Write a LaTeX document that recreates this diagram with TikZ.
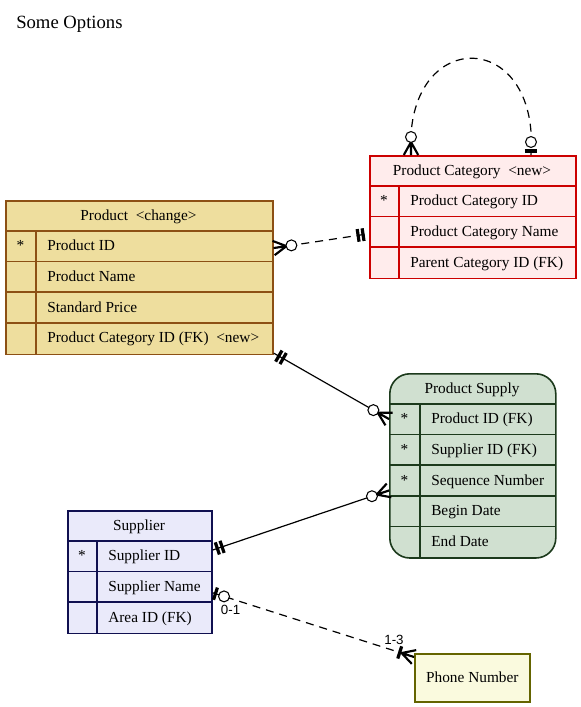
\documentclass[tikz,border=0pt]{standalone}
\usepackage{fontspec}
\setmainfont{Liberation Serif}
\newfontfamily\lblfont{Liberation Sans}
\usetikzlibrary{calc}

\definecolor{prodfill}{RGB}{238,222,158}
\definecolor{prodbd}{RGB}{140,80,20}
\definecolor{pcatfill}{RGB}{255,236,236}
\definecolor{pcatbd}{RGB}{204,0,0}
\definecolor{psfill}{RGB}{208,224,208}
\definecolor{psbd}{RGB}{28,58,28}
\definecolor{supfill}{RGB}{234,234,250}
\definecolor{supbd}{RGB}{16,16,80}
\definecolor{phonefill}{RGB}{250,250,222}
\definecolor{phonebd}{RGB}{100,100,0}

\tikzset{
  cell/.style={inner sep=0pt, text height=9pt, text depth=2pt,
    font=\fontsize{11.5}{13}\selectfont},
  attr/.style={cell, anchor=west},
  keycell/.style={cell, anchor=center},
  head/.style={cell, anchor=center},
  box/.style={anchor=north west, inner sep=0pt, line width=1.2pt},
  prodbox/.style={draw=prodbd, fill=prodfill},
  pcatbox/.style={draw=pcatbd, fill=pcatfill},
  psbox/.style={draw=psbd, fill=psfill, rounded corners=15pt},
  supbox/.style={draw=supbd, fill=supfill},
  rel/.style={line width=0.9pt},
  opt/.style={rel, dash pattern=on 6pt off 4.5pt},
  crow/.style={line width=1.6pt, line join=miter},
  erbarline/.style={line width=2.4pt},
  ring/.style={line width=0.8pt, draw=black, fill=white},
  lbl/.style={font=\lblfont\fontsize{10}{11}\selectfont, inner sep=0pt}
}

% entity table: name, x0, y0, x1, xdiv, colour prefix, header, key/attribute list
\newcommand\entity[8]{%
  \foreach \kk/\att [count=\nn] in {#8} {\xdef\nrows{\nn}}%
  \pgfmathsetmacro\ybot{#3+(\nrows+1)*30.7}%
  \node[#6box, box, minimum width={(#4-#2)*0.75pt},
        minimum height={(\ybot-#3)*0.75pt}] (#1) at (#2,#3) {};
  \node[head] (#1-h) at ({(#2+#4)/2},{#3+15.35}) {#7};
  \foreach \kk/\att [count=\i] in {#8} {%
    \pgfmathsetmacro\yt{#3+\i*30.7}%
    \draw[draw=#6bd, line width=1.2pt] (#2,\yt) -- (#4,\yt);
    \node[keycell] (#1-k\i) at ({(#2+#5)/2},{\yt+15.35}) {\kk};
    \node[attr] (#1-\i) at ({#5+11},{\yt+15.35}) {\att};
  }%
  \draw[draw=#6bd, line width=1.2pt] (#5,{#3+30.7}) -- (#5,\ybot);
}

% crow's foot at end #1 of a connector running towards #2
\newcommand\erCrow[2]{%
  \path ($(#1)!9.75pt!(#2)$) coordinate (erP)
        ($(#1)!5.4pt!90:(#2)$) coordinate (erL)
        ($(#1)!5.4pt!-90:(#2)$) coordinate (erR);
  \draw[crow] (erL) -- (erP) -- (erR) (erP) -- (#1);
}
% cross bar at distance #3 from end #1
\newcommand\erBar[3]{%
  \path ($(#1)!#3!(#2)$) coordinate (erQ);
  \draw[erbarline] ($(erQ)!4.8pt!90:(#2)$) -- ($(erQ)!4.8pt!-90:(#2)$);
}
% open ring at distance #3 from end #1
\newcommand\erRing[3]{%
  \path ($(#1)!#3!(#2)$) coordinate (erQ);
  \draw[ring] (erQ) circle[radius=4.1pt];
}

\begin{document}
\begin{tikzpicture}[x=0.75pt,y=-0.75pt]
\useasboundingbox (0,0) rectangle (581,707);

\node[anchor=base west, inner sep=0pt, font=\fontsize{14}{16}\selectfont]
  (title) at (16,28) {Some Options};

% entities
\entity{prod}{5}{200}{272}{36}{prod}{Product\ \ <change>}%
  {*/Product ID, /Product Name, /Standard Price, /Product Category ID (FK)\ \ <new>}
\entity{pcat}{369}{155}{575}{399}{pcat}{Product Category\ \ <new>}%
  {*/Product Category ID, /Product Category Name, /Parent Category ID (FK)}
\entity{ps}{389}{373}{555}{420}{ps}{Product Supply}%
  {*/Product ID (FK), */Supplier ID (FK), */Sequence Number, /Begin Date, /End Date}
\entity{sup}{67}{510}{211}{97}{sup}{Supplier}%
  {*/Supplier ID, /Supplier Name, /Area ID (FK)}
\node[box, draw=phonebd, fill=phonefill, anchor=north west,
      minimum width=86.25pt, minimum height=36pt, cell, text depth=2pt]
  (phone) at (414,653) {Phone Number};

% connector end points
\coordinate (c1a) at ($(prod.east |- prod-1)+(0,2)$);
\coordinate (c1b) at ($(pcat.west |- pcat-2)+(0,2)$);
\coordinate (c2a) at ($(prod.south east)+(0,-2)$);
\coordinate (c2b) at (ps.west |- ps-1);
\coordinate (c3a) at ($(sup.east |- sup-1)+(0,-6)$);
\coordinate (c3b) at ($(ps.west |- ps-3)+(0,10)$);
\coordinate (c4a) at ($(sup.east |- sup-2)+(0,6)$);
\coordinate (c4b) at ($(phone.north west)+(0,4)$);
\coordinate (c5a) at ($(pcat.north west)+(42,0)$);
\coordinate (c5b) at ($(pcat.north west)+(162,0)$);
\coordinate (c5au) at ($(c5a)+(0,-40)$);
\coordinate (c5bu) at ($(c5b)+(0,-40)$);

% Product -- Product Category
\draw[opt] (c1a) -- (c1b);
\erCrow{c1a}{c1b}
\erRing{c1a}{c1b}{13.5pt}
\erBar{c1b}{c1a}{4.5pt}
\erBar{c1b}{c1a}{8.25pt}

% Product -- Product Supply
\draw[rel] (c2a) -- (c2b);
\erBar{c2a}{c2b}{4.5pt}
\erBar{c2a}{c2b}{8.25pt}
\erCrow{c2b}{c2a}
\erRing{c2b}{c2a}{13.5pt}

% Supplier -- Product Supply
\draw[rel] (c3a) -- (c3b);
\erBar{c3a}{c3b}{3.75pt}
\erBar{c3a}{c3b}{7.5pt}
\erCrow{c3b}{c3a}
\erRing{c3b}{c3a}{13.5pt}

% Supplier -- Phone Number
\draw[opt] (c4a) -- (c4b);
\erBar{c4a}{c4b}{2.25pt}
\erRing{c4a}{c4b}{9pt}
\erCrow{c4b}{c4a}
\erBar{c4b}{c4a}{11.25pt}
\node[lbl] (l01) at ($(c4a)+(18,17)$) {0-1};
\node[lbl] (l13) at ($(c4b)+(-20,-17)$) {1-3};

% Product Category parent link
\draw[opt] (c5a) .. controls ($(c5a)+(-8,-129)$) and ($(c5b)+(9,-129)$) .. (c5b);
\erCrow{c5a}{c5au}
\erRing{c5a}{c5au}{13.5pt}
\erBar{c5b}{c5bu}{3pt}
\erRing{c5b}{c5bu}{9.75pt}
\end{tikzpicture}
\end{document}
